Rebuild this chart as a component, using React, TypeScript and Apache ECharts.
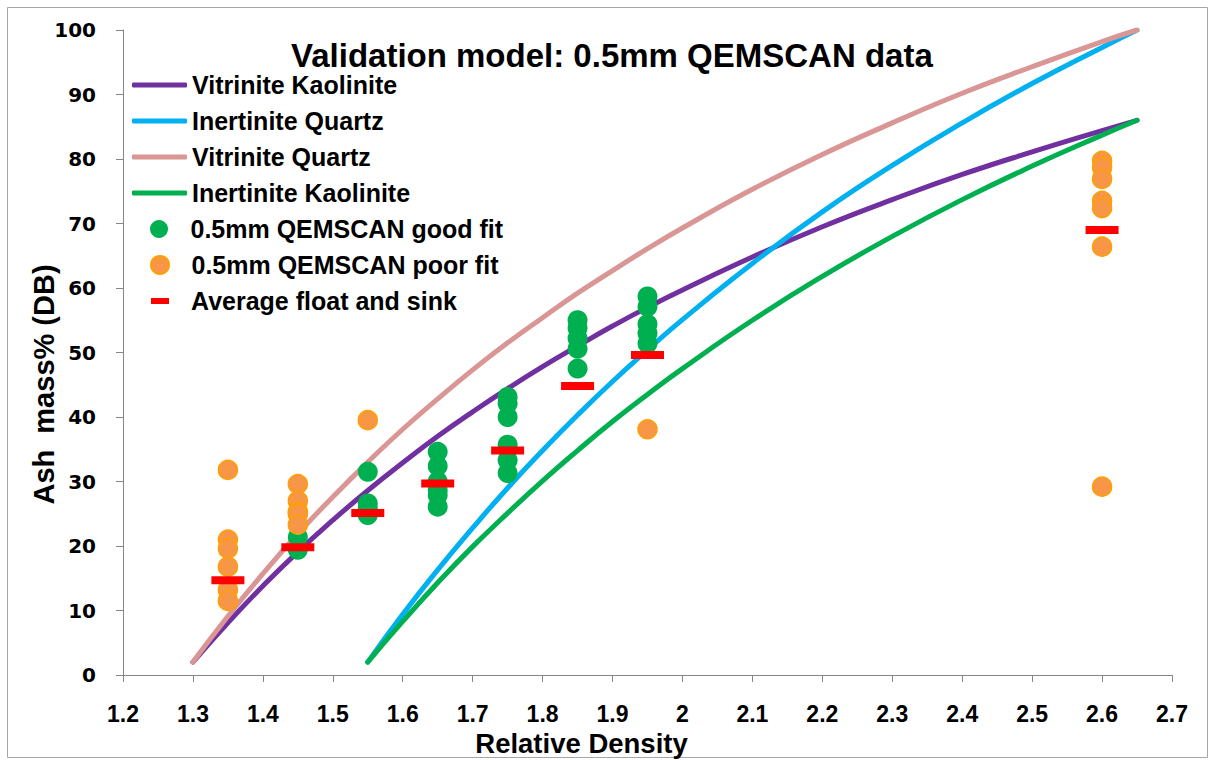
import React, { useEffect, useRef } from "react";
import * as echarts from "echarts";

// Model curves: ash content against relative density for each maceral/mineral pair
const densityVitrinite = [1.3, 1.35, 1.4, 1.45, 1.5, 1.55, 1.6, 1.65, 1.7, 1.75, 1.8, 1.85, 1.9, 1.95, 2.0, 2.1, 2.2, 2.3, 2.4, 2.5, 2.6, 2.65];
const ashVitriniteKaolinite = [2, 8.1, 13.8, 19.1, 24.0, 28.6, 32.9, 37.0, 40.8, 44.4, 47.8, 51.0, 54.1, 57.0, 59.7, 64.8, 69.5, 73.7, 77.6, 81.1, 84.4, 86];
const ashVitriniteQuartz = [2, 9.1, 15.7, 21.9, 27.6, 33.0, 38.1, 42.8, 47.3, 51.5, 55.4, 59.2, 62.7, 66.1, 69.3, 75.3, 80.7, 85.6, 90.2, 94.3, 98.2, 100];

const densityInertinite = [1.55, 1.6, 1.65, 1.7, 1.75, 1.8, 1.85, 1.9, 1.95, 2.0, 2.1, 2.2, 2.3, 2.4, 2.5, 2.6, 2.65];
const ashInertiniteQuartz = [2, 9.4, 16.3, 22.8, 29.0, 34.8, 40.3, 45.5, 50.4, 55.1, 63.8, 71.8, 79.0, 85.6, 91.7, 97.3, 100];
const ashInertiniteKaolinite = [2, 8.3, 14.3, 19.9, 25.1, 30.1, 34.8, 39.3, 43.5, 47.5, 55.0, 61.8, 68.0, 73.7, 78.9, 83.7, 86];

// QEMSCAN particles that agree with the model
const goodFitDensity = [1.45, 1.45, 1.55, 1.55, 1.55, 1.55, 1.65, 1.65, 1.65, 1.65, 1.65, 1.65, 1.75, 1.75, 1.75, 1.75, 1.75, 1.75, 1.75, 1.85, 1.85, 1.85, 1.85, 1.85, 1.95, 1.95, 1.95, 1.95, 1.95];
const goodFitAsh = [21.4, 19.4, 31.5, 26.6, 25.8, 24.8, 34.6, 32.4, 30.0, 28.7, 27.9, 26.1, 43.1, 42.1, 40.0, 35.7, 35.1, 33.3, 31.3, 55.0, 53.8, 52.2, 50.6, 47.5, 58.7, 57.1, 54.4, 53.0, 51.4];

// QEMSCAN particles that do not agree with the model
const poorFitDensity = [1.35, 1.35, 1.35, 1.35, 1.35, 1.35, 1.45, 1.45, 1.45, 1.45, 1.45, 1.55, 1.95, 2.6, 2.6, 2.6, 2.6, 2.6, 2.6, 2.6];
const poorFitAsh = [31.8, 21.0, 19.6, 16.8, 13.2, 11.5, 29.6, 27.0, 25.3, 25.0, 23.3, 39.5, 38.1, 79.7, 78.7, 76.9, 73.5, 72.4, 66.4, 29.2];

// Float and sink averages per density fraction
const floatSinkDensity = [1.35, 1.45, 1.55, 1.65, 1.75, 1.85, 1.95, 2.6];
const floatSinkAsh = [14.7, 19.8, 25.1, 29.7, 34.8, 44.8, 49.6, 69.0];

const zip = (xs: number[], ys: number[]) => xs.map((x, i) => [x, ys[i]]);

const FONT = "'Liberation Sans', Arial, sans-serif";

const lineNames = ["Vitrinite Kaolinite", "Inertinite Quartz", "Vitrinite Quartz", "Inertinite Kaolinite"];
const lineColors = ["#7030A0", "#00B0F0", "#D99694", "#00B050"];
const pointNames = ["0.5mm QEMSCAN good fit", "0.5mm QEMSCAN poor fit"];
const averageName = "Average float and sink";

export default function App() {
  const ref = useRef<HTMLDivElement>(null);

  useEffect(() => {
    if (!ref.current) return;
    const chart = echarts.init(ref.current, undefined, { renderer: "svg" });

    const lineData = [
      zip(densityVitrinite, ashVitriniteKaolinite),
      zip(densityInertinite, ashInertiniteQuartz),
      zip(densityVitrinite, ashVitriniteQuartz),
      zip(densityInertinite, ashInertiniteKaolinite),
    ];

    const legendText = { fontFamily: FONT, fontWeight: "bold" as const, fontSize: 25, color: "#000" };
    const rowTop = (i: number) => 85 + i * 36 - 12.5;

    const legends: any[] = lineNames.map((name, i) => ({
      data: [{ name, icon: "roundRect" }],
      left: 132,
      top: rowTop(i),
      padding: 0,
      itemWidth: 55,
      itemHeight: 5,
      textStyle: legendText,
      selectedMode: false,
    }));
    pointNames.forEach((name, i) => {
      legends.push({
        data: [{ name, icon: "circle" }],
        left: 150,
        top: rowTop(4 + i),
        padding: 0,
        itemWidth: 53,
        itemHeight: 18,
        textStyle: legendText,
        selectedMode: false,
      });
    });
    legends.push({
      data: [{ name: averageName, icon: "rect" }],
      left: 151,
      top: rowTop(6),
      padding: 0,
      itemWidth: 18,
      itemHeight: 6,
      textStyle: { ...legendText, padding: [0, 0, 0, 17] },
      selectedMode: false,
    });

    chart.setOption({
      animation: false,
      backgroundColor: "#fff",
      title: {
        text: "Validation model: 0.5mm QEMSCAN data",
        left: 291,
        top: 39,
        padding: 0,
        textStyle: { fontFamily: FONT, fontWeight: "bold", fontSize: 33, color: "#000" },
      },
      legend: legends,
      grid: { left: 123, right: 40, top: 30, bottom: 85, containLabel: false, outerBoundsMode: "none" },
      xAxis: {
        type: "value",
        min: 1.2,
        max: 2.7,
        interval: 0.1,
        name: "Relative Density",
        nameLocation: "middle",
        nameGap: 54,
        nameMoveOverlap: false,
        nameTextStyle: { fontFamily: FONT, fontWeight: "bold", fontSize: 27.5, color: "#000", padding: [0, 132, 0, 0] },
        axisLine: { show: true, lineStyle: { color: "#868686", width: 1 } },
        axisTick: { show: true, length: 7, lineStyle: { color: "#868686" } },
        splitLine: { show: false },
        axisLabel: {
          margin: 27,
          fontFamily: FONT,
          fontWeight: "bold",
          fontSize: 23,
          color: "#000",
          formatter: (v: number) => String(Math.round(v * 10) / 10),
        },
      },
      yAxis: {
        type: "value",
        min: 0,
        max: 100,
        interval: 10,
        name: "Ash  mass% (DB)",
        nameLocation: "middle",
        nameRotate: 90,
        nameGap: 65,
        nameMoveOverlap: false,
        nameTextStyle: { fontFamily: FONT, fontWeight: "bold", fontSize: 29, color: "#000", padding: [0, 64, 0, 0] },
        axisLine: { show: true, lineStyle: { color: "#868686", width: 1 } },
        axisTick: { show: true, length: 7, lineStyle: { color: "#868686" } },
        splitLine: { show: false },
        axisLabel: { margin: 27, fontFamily: "'DejaVu Sans', sans-serif", fontWeight: "bold", fontSize: 20, color: "#000" },
      },
      graphic: [
        {
          type: "rect",
          shape: { x: 7.5, y: 7.5, width: 1200, height: 750 },
          style: { fill: "none", stroke: "#A6A6A6", lineWidth: 1 },
          silent: true,
          z: -10,
        },
      ],
      series: [
        ...lineNames.map((name, i) => ({
          name,
          type: "line",
          data: lineData[i],
          smooth: true,
          symbol: "none",
          lineStyle: { color: lineColors[i], width: 5, cap: "round" },
          itemStyle: { color: lineColors[i] },
          z: 2,
        })),
        {
          name: pointNames[0],
          type: "scatter",
          data: zip(goodFitDensity, goodFitAsh),
          symbol: "circle",
          symbolSize: 20,
          itemStyle: { color: "#00B050", opacity: 1 },
          z: 3,
        },
        {
          name: pointNames[1],
          type: "scatter",
          data: zip(poorFitDensity, poorFitAsh),
          symbol: "circle",
          symbolSize: 19,
          itemStyle: { color: "#F79646", borderColor: "#FFA000", borderWidth: 1.5, opacity: 1 },
          z: 4,
        },
        {
          name: averageName,
          type: "scatter",
          data: zip(floatSinkDensity, floatSinkAsh),
          symbol: "rect",
          symbolSize: [33, 8],
          itemStyle: { color: "#FF0000", opacity: 1 },
          z: 5,
        },
      ],
    });

    return () => chart.dispose();
  }, []);

  return (
    <div
      ref={ref}
      style={{ position: "absolute", left: 0, top: 0, width: 1212, height: 760, background: "#fff" }}
    />
  );
}
